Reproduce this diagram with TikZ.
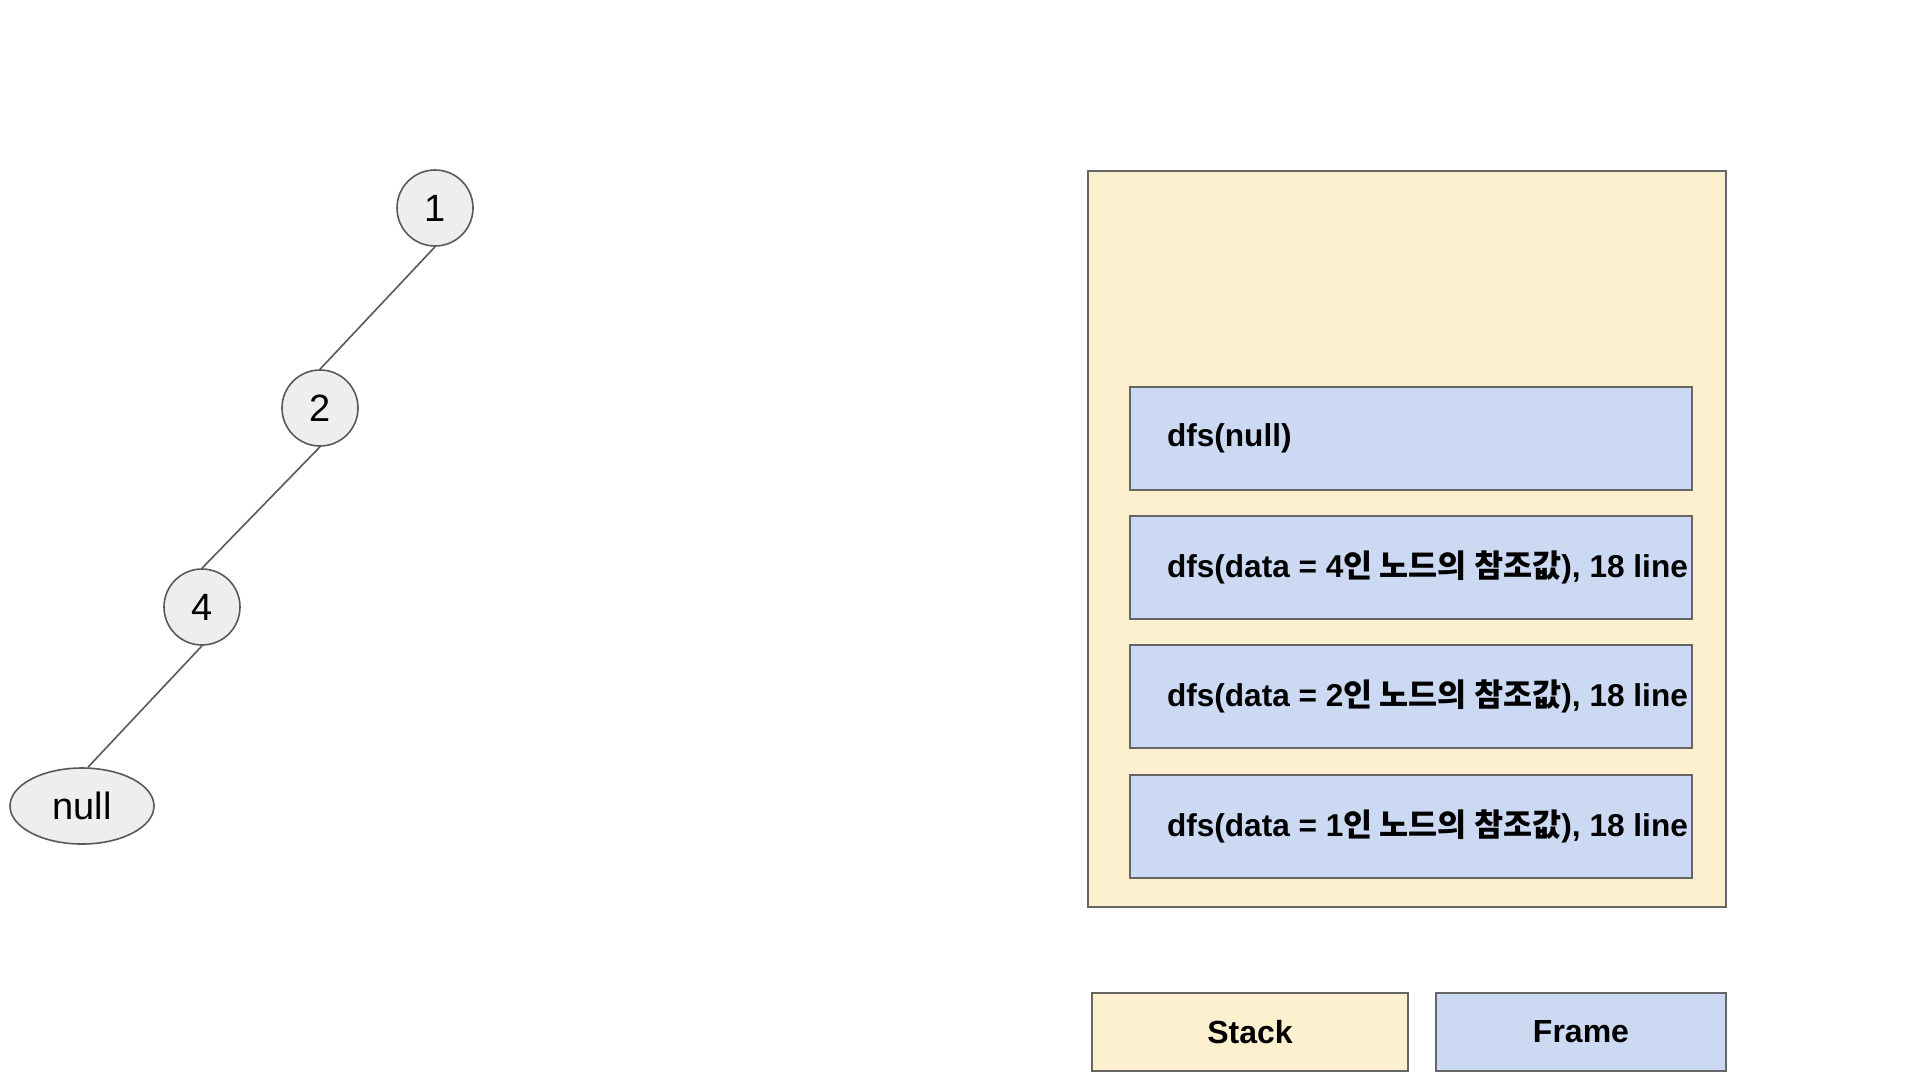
\documentclass[tikz,border=0pt]{standalone}
\usepackage{fontspec}
\setmainfont{Liberation Sans}
\newfontfamily\kr{Noto Sans CJK KR}
\usetikzlibrary{shapes.geometric}
\definecolor{stackfill}{HTML}{FCF0CE}
\definecolor{framefill}{HTML}{CBD9F3}
\definecolor{nodefill}{HTML}{EEEEEE}
\definecolor{edgecol}{HTML}{595959}
\definecolor{bordercol}{HTML}{666666}
\begin{document}
\begin{tikzpicture}[x=1pt,y=-1pt,
  treenode/.style={circle,draw=edgecol,line width=1.6pt,fill=nodefill,minimum size=76pt,inner sep=0pt,font=\fontsize{38}{44}\selectfont},
  nullnode/.style={ellipse,draw=edgecol,line width=1.6pt,fill=nodefill,minimum width=144pt,minimum height=76pt,inner sep=0pt,font=\fontsize{38}{44}\selectfont},
  edge/.style={draw=edgecol,line width=1.6pt},
  stackbox/.style={rectangle,draw=bordercol,line width=2pt,fill=stackfill,inner sep=0pt},
  framebox/.style={rectangle,draw=bordercol,line width=2pt,fill=framefill,minimum height=103pt,inner xsep=37pt,inner ysep=0pt,font=\fontsize{31.6}{36}\selectfont\bfseries},
  legendbox/.style={rectangle,draw=bordercol,line width=2pt,minimum height=78pt,inner sep=0pt,font=\fontsize{32}{38}\selectfont\bfseries}
]
\useasboundingbox[fill=white] (0,0) rectangle (1930,1080);

% tree
\node[treenode] (n1) at (435,208) {1};
\node[treenode] (n2) at (320,408) {2};
\node[treenode] (n4) at (202,607) {4};
\node[nullnode] (nul) at (82,806) {null};
\draw[edge] (n1.south) -- (n2.north);
\draw[edge] (n2.south) -- (n4.north);
\draw[edge] (n4.south) -- ([xshift=6pt]nul.north);

% stack
\node[stackbox,minimum width=638pt,minimum height=736pt] (stack) at (1407,539) {};
\node[framebox] (f0) at (1411,438) {\raisebox{-4pt}{\makebox[488pt][l]{dfs(null)}}};
\node[framebox] (f4) at (1411,567.5) {\raisebox{-3pt}{\makebox[488pt][l]{dfs(data = 4{\kr\bfseries 인 노드의 참조값}), 18 line}}};
\node[framebox] (f2) at (1411,696.5) {\raisebox{-3pt}{\makebox[488pt][l]{dfs(data = 2{\kr\bfseries 인 노드의 참조값}), 18 line}}};
\node[framebox] (f1) at (1411,826) {\raisebox{-3pt}{\makebox[488pt][l]{dfs(data = 1{\kr\bfseries 인 노드의 참조값}), 18 line}}};

% legend
\node[legendbox,fill=stackfill,minimum width=316pt] (lstack) at (1250,1032) {Stack};
\node[legendbox,fill=framefill,minimum width=290pt] (lframe) at (1581,1032) {Frame};
\end{tikzpicture}
\end{document}
